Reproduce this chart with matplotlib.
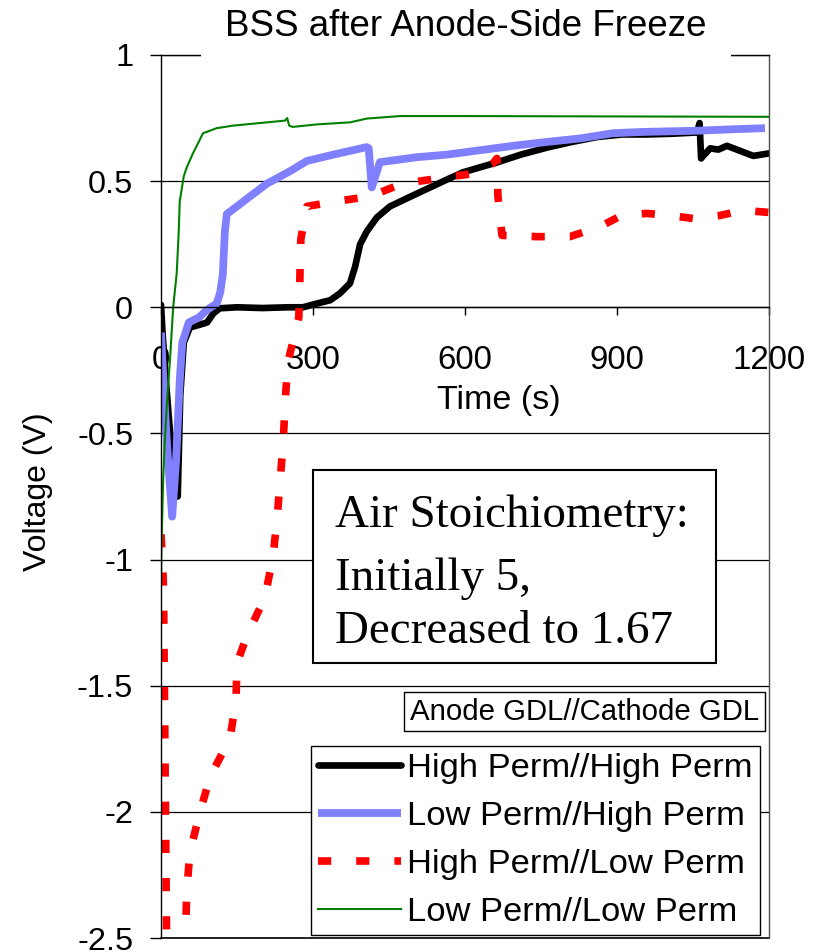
import matplotlib
matplotlib.use("Agg")
import matplotlib.pyplot as plt
from matplotlib.patches import Rectangle

plt.rcParams['font.family'] = ['Liberation Sans', 'DejaVu Sans']
plt.rcParams['axes.unicode_minus'] = False
plt.rcParams['lines.scale_dashes'] = False

W, H = 817, 952  # output size in pixels

# time (s) / voltage (V) for each anode//cathode GDL pairing
hh_t = [0, 3, 10, 20, 30, 33, 38, 45, 57, 75, 91, 103, 116, 150, 200, 250, 280, 308,
        334, 353, 373, 383, 393, 406, 426, 452, 497, 531, 563, 596, 630, 663, 710, 762,
        810, 861, 910, 959, 1010, 1058, 1063, 1066, 1070, 1084, 1100, 1117, 1143, 1169, 1200]
hh_v = [0.01, -0.1, -0.3, -0.55, -0.74, -0.75, -0.35, -0.14, -0.08, -0.07, -0.06, -0.025,
        -0.004, 0.0, -0.003, 0.0, 0.0, 0.015, 0.028, 0.055, 0.095, 0.16, 0.25, 0.30, 0.356,
        0.40, 0.443, 0.475, 0.505, 0.535, 0.555, 0.574, 0.605, 0.633, 0.655, 0.675, 0.685,
        0.685, 0.688, 0.693, 0.73, 0.59, 0.60, 0.63, 0.625, 0.64, 0.62, 0.60, 0.61]

lh_t = [0, 5, 12, 22, 30, 37, 42, 55, 75, 91, 110, 117, 122, 126, 130, 150, 176, 209,
        255, 288, 340, 406, 410, 416, 420, 432, 505, 564, 620, 695, 760, 830, 892, 950,
        1060, 1120, 1192]
lh_v = [-0.1, -0.3, -0.55, -0.83, -0.6, -0.29, -0.14, -0.06, -0.04, -0.01, 0.015, 0.06,
        0.13, 0.3, 0.37, 0.40, 0.44, 0.49, 0.54, 0.58, 0.605, 0.635, 0.63, 0.475, 0.50,
        0.575, 0.595, 0.605, 0.62, 0.64, 0.655, 0.67, 0.69, 0.695, 0.70, 0.705, 0.71]

hl_t = [0, 3, 5, 8, 11, 20, 38, 48, 51, 57, 77, 97, 136, 148, 150, 170, 205, 221, 229,
        235, 241, 245, 250, 265, 272, 274, 276, 288, 347, 413, 476, 545, 616, 655, 663,
        665, 673, 742, 807, 867, 910, 959, 1005, 1050, 1103, 1149, 1200]
hl_v = [-0.9, -1.0, -1.12, -1.8, -2.5, -2.9, -2.9, -2.5, -2.31, -2.16, -2.0, -1.86,
        -1.71, -1.56, -1.41, -1.30, -1.15, -0.99, -0.84, -0.69, -0.54, -0.38, -0.22,
        -0.1, -0.04, 0.11, 0.27, 0.40, 0.42, 0.44, 0.49, 0.51, 0.53, 0.57, 0.59, 0.44,
        0.285, 0.28, 0.28, 0.32, 0.365, 0.372, 0.364, 0.352, 0.364, 0.384, 0.376]

ll_t = [0, 1, 4, 7, 12, 18, 24, 31, 35, 37, 45, 51, 63, 83, 110, 142, 209, 245, 249,
        253, 260, 308, 373, 406, 472, 600, 800, 1000, 1200]
ll_v = [-1.1, -0.95, -0.7, -0.55, -0.37, -0.2, 0.0, 0.135, 0.3, 0.42, 0.52, 0.555, 0.61,
        0.69, 0.71, 0.72, 0.733, 0.74, 0.75, 0.72, 0.715, 0.725, 0.733, 0.748, 0.758,
        0.758, 0.757, 0.756, 0.755]

series_names = ['High Perm//High Perm', 'Low Perm//High Perm',
                'High Perm//Low Perm', 'Low Perm//Low Perm']
x_ticks = [0, 300, 600, 900, 1200]
x_labels = ['0', '300', '600', '900', '1200']
y_ticks = [1, 0.5, 0, -0.5, -1, -1.5, -2, -2.5]
y_labels = ['1', '0.5', '0', '-0.5', '-1', '-1.5', '-2', '-2.5']


def fx(px):
    return px / W


def fy(py):
    return 1 - py / H


fig = plt.figure(figsize=(W / 100, H / 100), dpi=100)
ax = fig.add_axes([fx(161), fy(938), (769 - 161) / W, (938 - 55) / H])

ax.plot(hh_t, hh_v, color='black', lw=4.8, solid_capstyle='round',
        solid_joinstyle='round', label=series_names[0])
ax.plot(lh_t, lh_v, color='#8080FF', lw=5.6, solid_capstyle='butt', label=series_names[1])
# dash pattern in points: short dash, long gap
ax.plot(hl_t, hl_v, color='#FF0000', lw=5.5, linestyle=(0, (9.5, 18)),
        dash_capstyle='butt', label=series_names[2])
ax.plot(ll_t, ll_v, color='#008000', lw=1.5, label=series_names[3])

ax.set_xlim(0, 1200)
ax.set_ylim(-2.5, 1)
ax.set_xticks(x_ticks)
ax.set_xticklabels(x_labels)
ax.set_yticks(y_ticks)
ax.set_yticklabels(y_labels)
ax.yaxis.grid(True, color='black', lw=0.9)
ax.set_axisbelow(True)

ax.spines['bottom'].set_position(('data', 0))
for s in ['left', 'bottom', 'top']:
    ax.spines[s].set_color('black')
    ax.spines[s].set_linewidth(1)
ax.spines['right'].set_color('0.3')
ax.spines['right'].set_linewidth(1)
ax.axhline(-2.5, color='black', lw=1.2, clip_on=False)

ax.tick_params(axis='y', direction='out', length=8, width=1, pad=12, labelsize=23.4)
ax.tick_params(axis='x', direction='out', length=6, width=1, pad=21, labelsize=23.8)

# title sits on a white box that hides the top border underneath it
fig.add_artist(Rectangle((fx(201), fy(59)), fx(731) - fx(201), 9 / H,
                         transform=fig.transFigure, fc='white', ec='none', zorder=5))
fig.text(fx(466), fy(36), 'BSS after Anode-Side Freeze', ha='center', va='baseline',
         fontsize=26.5, zorder=6)

fig.text(fx(499), fy(409), 'Time (s)', ha='center', va='baseline', fontsize=24.5)
fig.text(fx(38), fy(492), 'Voltage (V)', ha='center', va='center', rotation=90,
         fontsize=23)

# air stoichiometry note
fig.add_artist(Rectangle((fx(313), fy(663)), fx(716) - fx(313), (663 - 470) / H,
                         transform=fig.transFigure, fc='white', ec='black', lw=1.5,
                         zorder=5))
note_lines = ['Air Stoichiometry:', 'Initially 5,', 'Decreased to 1.67']
for line, base in zip(note_lines, [527, 590, 643]):
    fig.text(fx(335), fy(base), line, ha='left', va='baseline', fontsize=33.8,
             family=['Liberation Serif', 'DejaVu Serif'], zorder=6)

fig.text(fx(410), fy(711.5), 'Anode GDL//Cathode GDL', ha='left', va='center',
         fontsize=21.2, zorder=6,
         bbox=dict(boxstyle='square,pad=0.2', fc='white', ec='black', lw=1))

leg = ax.legend(loc='upper left', bbox_to_anchor=(fx(311), fy(746)),
                bbox_transform=fig.transFigure, borderaxespad=0, fancybox=False,
                edgecolor='black', framealpha=1, fontsize=24.8, handlelength=2.4,
                handletextpad=0.2, labelspacing=0.49, borderpad=0.2)
leg.get_frame().set_linewidth(1)

fig.savefig('out.png', dpi=100)
